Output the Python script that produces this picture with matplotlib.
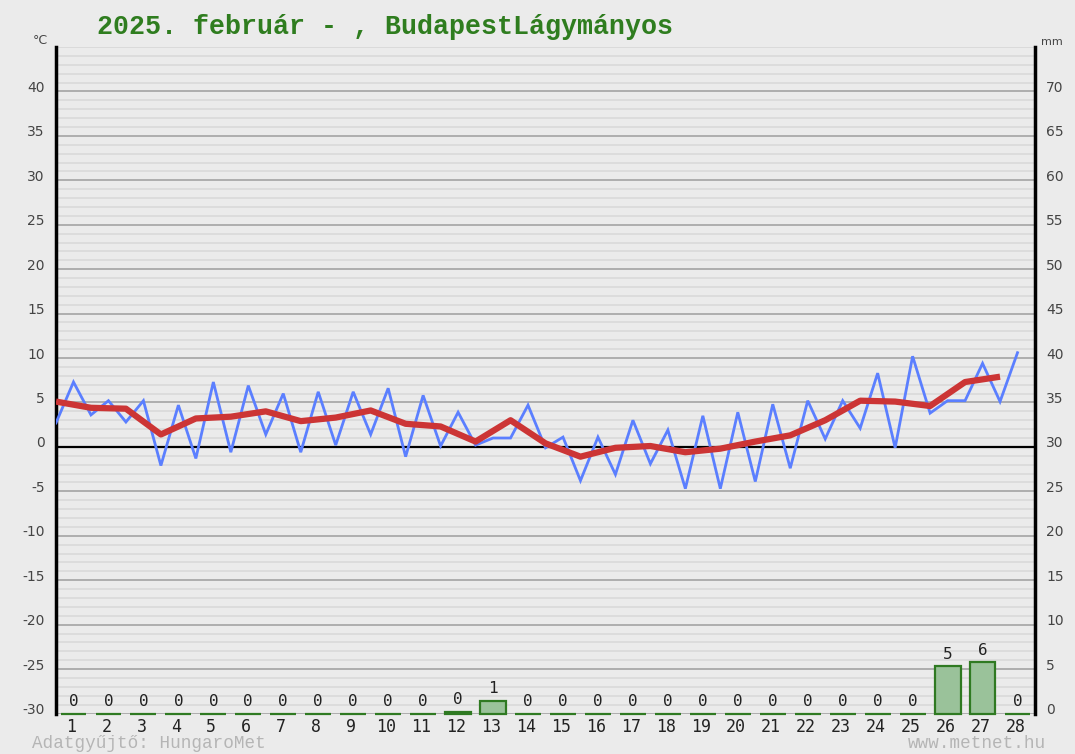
import matplotlib
matplotlib.use('Agg')
import matplotlib.pyplot as plt
import numpy as np
from matplotlib.transforms import ScaledTranslation

plt.rcParams['axes.unicode_minus'] = False

# ---- data ----
days = list(range(1, 29))
# temperature every half day (from day 0.5 to day 28.0), degC
temp_halfday = [2.7, 7.3, 3.6, 5.2, 2.8, 5.2, -2.1, 4.7, -1.3, 7.3,
                -0.6, 6.9, 1.4, 6.0, -0.6, 6.2, 0.2, 6.2, 1.4, 6.6,
                -1.1, 5.8, 0.1, 3.9, 0.2, 1.0, 1.0, 4.7, -0.1, 1.1,
                -3.8, 1.1, -3.1, 3.0, -1.9, 1.9, -4.7, 3.5, -4.7, 3.9,
                -3.9, 4.8, -2.4, 5.2, 0.9, 5.2, 2.1, 8.3, -0.1, 10.2,
                3.8, 5.2, 5.2, 9.4, 5.1, 10.6]
# daily mean temperature (plotted at day boundaries 0.5 ... 27.5), degC
temp_mean = [5.1, 4.4, 4.3, 1.4, 3.2, 3.4, 4.0, 2.9, 3.3, 4.1,
             2.6, 2.3, 0.6, 3.0, 0.4, -1.1, -0.1, 0.1, -0.6, -0.2,
             0.6, 1.3, 3.0, 5.2, 5.1, 4.6, 7.3, 7.9]
# daily precipitation, mm
precip = [0, 0, 0, 0, 0, 0, 0, 0, 0, 0,
          0, 0.2, 1.45, 0, 0, 0, 0, 0, 0, 0,
          0, 0, 0, 0, 0, 5.35, 5.75, 0]
precip_labels = [str(int(round(v))) for v in precip]
left_ticks = list(range(-30, 41, 5))
right_ticks = list(range(0, 71, 5))

title = "2025. február - , BudapestLágymányos"

# ---- figure ----
W, H = 1075, 754
bg = '#ebebeb'
fig = plt.figure(figsize=(W / 100, H / 100), dpi=100, facecolor=bg)
x0, x1, y0, y1 = 56, 1035, 47, 713.5
ax = fig.add_axes([x0 / W, 1 - y1 / H, (x1 - x0) / W, (y1 - y0) / H])
ax.set_facecolor(bg)
ax.set_xlim(0.5, 28.5)
ax.set_ylim(-30, 45)

ax.set_yticks(left_ticks)
ax.set_yticks(np.arange(-30, 46, 1), minor=True)
ax.grid(True, which='minor', axis='y', color='#dcdcdc', lw=1.4, zorder=0)
ax.grid(True, which='major', axis='y', color='#a3a3a3', lw=1.2, zorder=0)
ax.axhline(45, color='#a3a3a3', lw=1.2, zorder=1)
ax.axhline(0, color='black', lw=1.6, zorder=2)
ax.set_xticks(days)
ax.set_xticklabels([str(d) for d in days], fontsize=12, color='#222222',
                   family='DejaVu Sans Mono')
ax.tick_params(axis='x', length=0, pad=3)
ax.tick_params(axis='y', which='both', length=0, pad=8, labelsize=10,
               labelcolor='#444444')
for lab in ax.get_yticklabels():
    lab.set_transform(lab.get_transform() + ScaledTranslation(0, 5 / 100, fig.dpi_scale_trans))
for lab in ax.get_xticklabels():
    lab.set_transform(lab.get_transform() + ScaledTranslation(-2 / 100, 0, fig.dpi_scale_trans))

for s in ['top', 'bottom']:
    ax.spines[s].set_visible(False)
for s in ['left', 'right']:
    ax.spines[s].set_color('black')
    ax.spines[s].set_linewidth(2.5)

bx = np.arange(len(temp_halfday)) * 0.5 + 0.5
ax.plot(bx, temp_halfday, color='#5b7fff', lw=2.0, zorder=4, solid_joinstyle='miter')
rx = np.arange(len(temp_mean)) + 0.5
ax.plot(rx, temp_mean, color='#cc3535', lw=4.5, zorder=5,
        solid_joinstyle='round', solid_capstyle='butt')

ax2 = ax.twinx()
ax2.set_ylim(0, 75)
ax2.set_yticks(right_ticks)
ax2.tick_params(axis='y', length=0, pad=8, labelsize=10, labelcolor='#444444')
for lab in ax2.get_yticklabels():
    lab.set_transform(lab.get_transform() + ScaledTranslation(0, 5 / 100, fig.dpi_scale_trans))
for s in ['top', 'bottom', 'left', 'right']:
    ax2.spines[s].set_visible(False)
bars = ax2.bar(days, precip, width=0.74, color='#9ac29a', edgecolor='#2f7a22',
               lw=1.6, zorder=3, clip_on=False)
for d, v, lab in zip(days, precip, precip_labels):
    ax2.annotate(lab, (d, v), xytext=(0, 8.5), textcoords='offset points',
                 ha='center', va='center', fontsize=11.5, color='#222222',
                 family='DejaVu Sans Mono')

# ---- texts ----
fig.text(97 / W, 1 - 27 / H, title, ha='left', va='center', fontsize=19.2,
         fontweight='bold', color='#2f7d1f', family='Liberation Mono')
fig.text(40 / W, 1 - 40 / H, '°C', ha='center', va='center', fontsize=9,
         color='#444444')
fig.text(1052 / W, 1 - 42 / H, 'mm', ha='center', va='center', fontsize=8,
         color='#444444')
fig.text(32 / W, 1 - 744 / H, 'Adatgyűjtő: HungaroMet', ha='left', va='center',
         fontsize=12.7, color='#b5b5b5', family='Liberation Mono')
fig.text(1046 / W, 1 - 744 / H, 'www.metnet.hu', ha='right', va='center',
         fontsize=12.7, color='#b5b5b5', family='Liberation Mono')

fig.savefig('out.png', dpi=100, facecolor=bg)
